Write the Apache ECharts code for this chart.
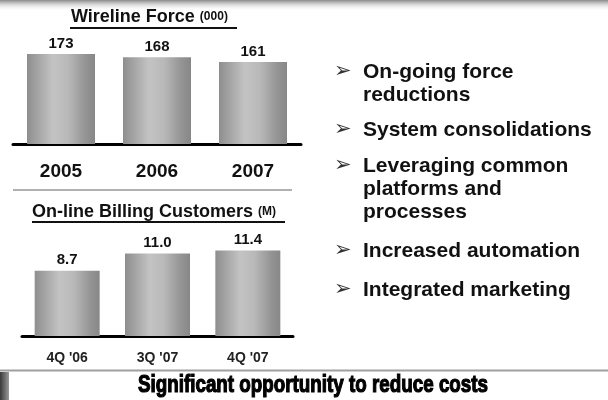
<!DOCTYPE html>
<html>
<head>
<meta charset="utf-8">
<script src="https://cdn.jsdelivr.net/npm/echarts@6/dist/echarts.min.js"></script>
<style>
html,body{margin:0;padding:0;background:#fff;}
#chart{width:608px;height:400px;}
</style>
</head>
<body>
<div id="chart"></div>
<script>
// ---- data ----
var forceYears = ['2005', '2006', '2007'];
var forceValues = [173, 168, 161];
var billingQuarters = ["4Q '06", "3Q '07", "4Q '07"];
var billingValues = [8.7, 11.0, 11.4];
var bulletLines = [
  ['On-going force', 'reductions'],
  ['System consolidations'],
  ['Leveraging common', 'platforms and', 'processes'],
  ['Increased automation'],
  ['Integrated marketing']
];
var footerText = 'Significant opportunity to reduce costs';

var FONT = "'Liberation Sans', Arial, sans-serif";
var chart = echarts.init(document.getElementById('chart'), null, {renderer: 'canvas'});

var barGrad = new echarts.graphic.LinearGradient(0, 0, 1, 0, [
  {offset: 0, color: '#8e8e8e'},
  {offset: 0.38, color: '#c3c3c3'},
  {offset: 0.6, color: '#b9b9b9'},
  {offset: 0.85, color: '#959595'},
  {offset: 1, color: '#878787'}
]);

// measure footer text to fit width
var cv = document.createElement('canvas').getContext('2d');
var footerFont = 'bold 24px ' + "'Liberation Sans Narrow', 'Liberation Sans', Arial, sans-serif";
cv.font = footerFont;
var fw = cv.measureText(footerText).width;
var footerScale = 350 / fw;

var graphics = [];
// top gradient band
graphics.push({type: 'rect', shape: {x: 0, y: 0, width: 608, height: 11},
  style: {fill: new echarts.graphic.LinearGradient(0, 0, 0, 1, [
    {offset: 0, color: '#8a8a8a'}, {offset: 1, color: 'rgba(255,255,255,0)'}])}, silent: true});
// titles
graphics.push({type: 'text', left: 71, top: 8,
  style: {text: '{a|Wireline Force }{b|(000)}', rich: {
    a: {fontSize: 18, fontWeight: 'bold', fontFamily: FONT, fill: '#111'},
    b: {fontSize: 12, fontWeight: 'bold', fontFamily: FONT, fill: '#111'}}}});
graphics.push({type: 'line', shape: {x1: 70, y1: 28, x2: 237, y2: 28}, style: {stroke: '#111', lineWidth: 2}});
graphics.push({type: 'line', shape: {x1: 13, y1: 190, x2: 292, y2: 190}, style: {stroke: '#b0b0b0', lineWidth: 2}});
graphics.push({type: 'text', left: 32, top: 203,
  style: {text: '{a|On-line Billing Customers }{b|(M)}', rich: {
    a: {fontSize: 18, fontWeight: 'bold', fontFamily: FONT, fill: '#111'},
    b: {fontSize: 12, fontWeight: 'bold', fontFamily: FONT, fill: '#111'}}}});
graphics.push({type: 'line', shape: {x1: 32, y1: 222, x2: 285, y2: 222}, style: {stroke: '#111', lineWidth: 2}});

// bullets
var itemY = [72, 130, 166, 251, 290];
var lineGap = 23;
bulletLines.forEach(function (lines, i) {
  graphics.push({type: 'text', x: 334, y: itemY[i],
    style: {text: '\u27A2', fontSize: 21, fontFamily: "'DejaVu Sans', sans-serif", fill: '#333', verticalAlign: 'middle'}});
  lines.forEach(function (t, j) {
    graphics.push({type: 'text', x: 363, y: itemY[i] + j * lineGap,
      style: {text: t, fontSize: 21, fontWeight: 'bold', fontFamily: FONT, fill: '#111', verticalAlign: 'middle'}});
  });
});

// footer
graphics.push({type: 'line', shape: {x1: 0, y1: 370.5, x2: 608, y2: 370.5}, style: {stroke: '#a0a0a0', lineWidth: 2}});
graphics.push({type: 'rect', shape: {x: 0, y: 372, width: 9, height: 28},
  style: {fill: new echarts.graphic.LinearGradient(0, 0, 1, 0, [
    {offset: 0, color: '#3a3a3a'}, {offset: 1, color: '#9a9a9a'}])}});
graphics.push({type: 'text', x: 313, y: 385, scaleX: footerScale, originX: 0, originY: 0,
  style: {text: footerText, font: footerFont, fill: '#000', stroke: '#000', lineWidth: 1.2,
    align: 'center', verticalAlign: 'middle'}});

var option = {
  animation: false,
  backgroundColor: '#fff',
  grid: [
    {left: 13, right: 307, top: 40, bottom: 256},
    {left: 22, right: 315, top: 231, bottom: 64}
  ],
  xAxis: [
    {type: 'category', gridIndex: 0, data: forceYears,
      axisLine: {lineStyle: {color: '#000', width: 3}}, axisTick: {show: false},
      axisLabel: {margin: 18, fontSize: 19, fontWeight: 'bold', fontFamily: FONT, color: '#111', lineHeight: 19}},
    {type: 'category', gridIndex: 1, data: billingQuarters,
      axisLine: {lineStyle: {color: '#000', width: 3}}, axisTick: {show: false},
      axisLabel: {margin: 15, fontSize: 14, fontWeight: 'bold', fontFamily: FONT, color: '#222', lineHeight: 14}}
  ],
  yAxis: [
    {type: 'value', gridIndex: 0, min: 38, max: 194, show: false, splitLine: {show: false}},
    {type: 'value', gridIndex: 1, min: 0, max: 14, show: false, splitLine: {show: false}}
  ],
  series: [
    {type: 'bar', xAxisIndex: 0, yAxisIndex: 0, data: forceValues, barWidth: 68,
      itemStyle: {color: barGrad},
      label: {show: true, position: 'top', distance: 3, fontSize: 15, fontWeight: 'bold', fontFamily: FONT, color: '#111'}},
    {type: 'bar', xAxisIndex: 1, yAxisIndex: 1, data: billingValues, barWidth: 65,
      itemStyle: {color: barGrad},
      label: {show: true, position: 'top', distance: 3, fontSize: 15, fontWeight: 'bold', fontFamily: FONT, color: '#111',
        formatter: function (p) { return p.value.toFixed(1); }}}
  ],
  graphic: graphics
};
chart.setOption(option);
</script>
</body>
</html>
